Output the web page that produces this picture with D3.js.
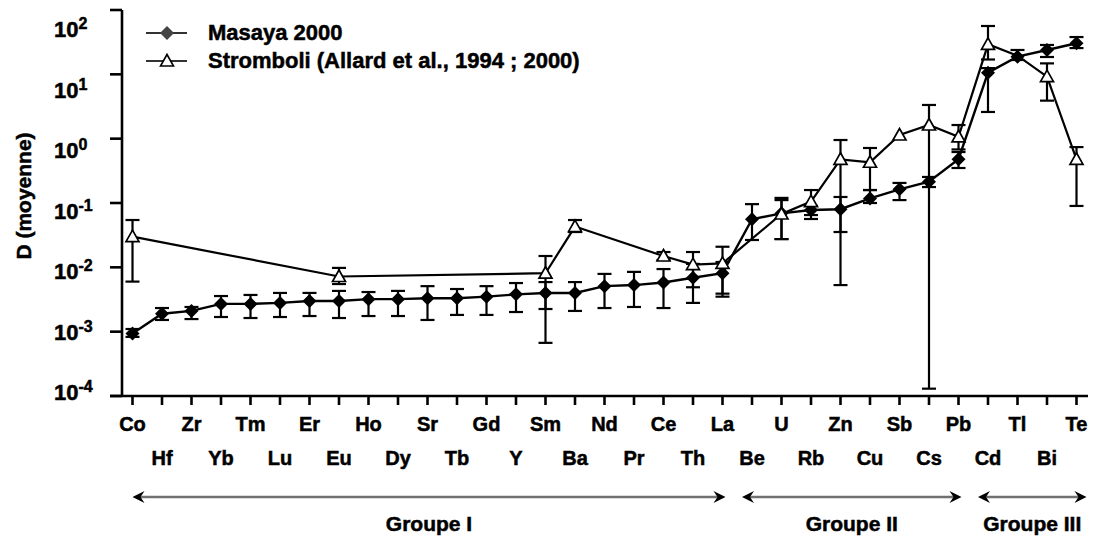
<!DOCTYPE html>
<html>
<head>
<meta charset="utf-8">
<script src="https://cdn.jsdelivr.net/npm/d3@7"></script>
<style>
  html, body { margin: 0; padding: 0; background: #fff; }
  svg { display: block; font-family: "Liberation Sans", Arial, sans-serif; font-weight: bold; }
  text { stroke: #000; stroke-width: 0.5px; paint-order: stroke; }
</style>
</head>
<body>
<svg id="chart" width="1093" height="538"></svg>
<script>
// Elements, ordered along the x axis
const categories = ["Co","Hf","Zr","Yb","Tm","Lu","Er","Eu","Ho","Dy","Sr","Tb","Gd","Y","Sm","Ba",
  "Nd","Pr","Ce","Th","La","Be","U","Rb","Zn","Cu","Sb","Cs","Pb","Cd","Tl","Bi","Te"];

// Masaya 2000: mean D, with lower / upper error limits
const masayaValues = [0.00094,0.0019,0.0021,0.0027,0.0027,0.0028,0.0030,0.0030,0.0032,0.0032,0.0033,
  0.0033,0.0035,0.0038,0.0040,0.0040,0.0051,0.0053,0.0058,0.0069,0.0081,0.056,0.069,0.078,0.080,
  0.118,0.163,0.214,0.48,10.6,18.8,23.9,30.4];
const masayaLow = [0.00083,0.00152,0.00157,0.00169,0.00163,0.00169,0.00175,0.00163,0.00175,0.00175,
  0.00152,0.00182,0.00182,0.00202,0.00225,0.0021,0.00233,0.00242,0.00233,0.0028,0.0039,0.0266,0.0275,
  0.0564,0.0354,0.100,0.111,0.177,0.35,2.6,16.7,18.6,25.6];
const masayaHigh = [0.0011,0.00233,0.00242,0.00358,0.00372,0.0040,0.0040,0.0043,0.00413,0.0043,0.0051,
  0.0046,0.0051,0.0057,0.0059,0.0059,0.0079,0.0085,0.0094,0.0113,0.0121,0.096,0.120,0.090,0.124,
  0.159,0.205,0.254,0.62,12.5,23.9,28.6,38];

// Stromboli (Allard et al., 1994 ; 2000): only some elements measured
const stromboliCats = ["Co","Eu","Sm","Ba","Ce","Th","La","U","Rb","Zn","Cu","Sb","Cs","Pb","Cd","Tl","Bi","Te"];
const stromboliValues = [0.030,0.0072,0.0081,0.043,0.0150,0.0110,0.0115,0.0675,0.105,0.478,0.43,1.14,
  1.63,1.07,29.3,19.5,9.2,0.478];
const stromboliLow = [0.0060,0.0055,0.00067,0.0354,0.0130,0.0049,0.0035,0.0275,0.065,0.0053,0.159,null,
  0.00013,0.68,17,null,3.9,0.090];
const stromboliHigh = [0.0544,0.0098,0.015,0.0544,0.0173,0.0173,0.0209,0.111,0.159,0.953,0.716,null,
  3.34,1.63,56.4,null,14.8,0.74];

// Y axis decades and element groups
const yTicks = [1e-4,1e-3,1e-2,1e-1,1e0,1e1,1e2];
const yExponents = ["-4","-3","-2","-1","0","1","2"];
const groupNames = ["Groupe I","Groupe II","Groupe III"];
const groupFirst = ["Co","Be","Cd"];
const groupLast = ["La","Pb","Te"];

const seriesNames = ["Masaya 2000","Stromboli (Allard et al., 1994 ; 2000)"];

const svg = d3.select("#chart");

const x = d3.scalePoint().domain(categories).range([132.5, 1076.5]);
const y = d3.scaleLog().domain([1e-4, 1e2]).range([396, 10]);
// tick labels sit on their own evenly spread ladder beside the axis
const yLab = d3.scaleLog().domain([1e-4, 1e2]).range([393, 30]);

const ink = "#000";

// ---- axes ----
const axisG = svg.append("g").attr("stroke", ink).attr("stroke-width", 2.6).attr("fill", "none");
axisG.append("line").attr("x1", 122).attr("x2", 122).attr("y1", y(1e2)).attr("y2", y(1e-4));
axisG.append("line").attr("x1", 110).attr("x2", 1088).attr("y1", y(1e-4)).attr("y2", y(1e-4));
axisG.selectAll("line.yt").data(yTicks).join("line").attr("class", "yt")
  .attr("x1", 110).attr("x2", 122).attr("y1", d => y(d)).attr("y2", d => y(d));
axisG.selectAll("line.xt").data(categories).join("line").attr("class", "xt")
  .attr("x1", d => x(d)).attr("x2", d => x(d)).attr("y1", y(1e-4)).attr("y2", y(1e-4) + 9);

// y tick labels: 10 with superscript exponent
const yl = svg.selectAll("text.yl").data(yTicks).join("text").attr("class", "yl")
  .attr("x", 54).attr("y", d => yLab(d) + 7).attr("font-size", 22).attr("fill", ink);
yl.append("tspan").text("10");
yl.append("tspan").attr("font-size", 16).attr("dy", -8).text((d, i) => yExponents[i]);

// y title
svg.append("text").attr("transform", "translate(31,196) rotate(-90)")
  .attr("text-anchor", "middle").attr("font-size", 21).attr("fill", ink).text("D (moyenne)");

// x labels, alternating between two rows
svg.selectAll("text.xl").data(categories).join("text").attr("class", "xl")
  .attr("x", d => x(d)).attr("y", (d, i) => i % 2 === 0 ? 431 : 465)
  .attr("text-anchor", "middle").attr("font-size", 20).attr("fill", ink).text(d => d);

// ---- group arrows ----
const groups = groupNames.map((name, i) => ({
  name,
  x0: x(groupFirst[i]) - (i === 0 ? 0 : 10),
  x1: x(groupLast[i]) + (i === groupNames.length - 1 ? 10 : 3)
}));
const gA = svg.append("g");
gA.selectAll("line").data(groups).join("line")
  .attr("x1", d => d.x0 + 6).attr("x2", d => d.x1 - 6).attr("y1", 497).attr("y2", 497)
  .attr("stroke", "#707070").attr("stroke-width", 2.5);
const head = (tipX, dir) => `M${tipX},497 L${tipX + dir * 12},491 L${tipX + dir * 8},497 L${tipX + dir * 12},503 Z`;
gA.selectAll("path.l").data(groups).join("path").attr("class", "l").attr("d", d => head(d.x0, 1)).attr("fill", ink);
gA.selectAll("path.r").data(groups).join("path").attr("class", "r").attr("d", d => head(d.x1, -1)).attr("fill", ink);
gA.selectAll("text").data(groups).join("text")
  .attr("x", d => (d.x0 + d.x1) / 2).attr("y", 531).attr("text-anchor", "middle")
  .attr("font-size", 21).attr("fill", ink).text(d => d.name);

// ---- series ----
const masaya = categories.map((c, i) => ({ c, v: masayaValues[i], lo: masayaLow[i], hi: masayaHigh[i] }));
const stromboli = stromboliCats.map((c, i) => ({ c, v: stromboliValues[i], lo: stromboliLow[i], hi: stromboliHigh[i] }));

const diamondPath = (cx, cy, r) => `M${cx},${cy - r} L${cx + r},${cy} L${cx},${cy + r} L${cx - r},${cy} Z`;
const trianglePath = (cx, cy) => `M${cx},${cy - 6.5} L${cx + 6.5},${cy + 5} L${cx - 6.5},${cy + 5} Z`;

function errorBars(g, data) {
  const d = data.filter(p => p.lo != null);
  const eb = g.append("g").attr("stroke", ink).attr("stroke-width", 2.2).attr("fill", "none");
  eb.selectAll("line.v").data(d).join("line").attr("class", "v")
    .attr("x1", p => x(p.c)).attr("x2", p => x(p.c)).attr("y1", p => y(p.lo)).attr("y2", p => y(p.hi));
  eb.selectAll("line.lo").data(d).join("line").attr("class", "lo")
    .attr("x1", p => x(p.c) - 7).attr("x2", p => x(p.c) + 7).attr("y1", p => y(p.lo)).attr("y2", p => y(p.lo));
  eb.selectAll("line.hi").data(d).join("line").attr("class", "hi")
    .attr("x1", p => x(p.c) - 7).attr("x2", p => x(p.c) + 7).attr("y1", p => y(p.hi)).attr("y2", p => y(p.hi));
}

const line = d3.line().x(p => x(p.c)).y(p => y(p.v));

const sG = svg.append("g");
errorBars(sG, stromboli);
sG.append("path").datum(stromboli).attr("d", line).attr("fill", "none").attr("stroke", ink).attr("stroke-width", 2.2);

const mG = svg.append("g");
errorBars(mG, masaya);
mG.append("path").datum(masaya).attr("d", line).attr("fill", "none").attr("stroke", ink).attr("stroke-width", 2.4);
mG.selectAll("path.m").data(masaya).join("path").attr("class", "m")
  .attr("d", p => diamondPath(x(p.c), y(p.v), 7)).attr("fill", ink);

// triangles drawn on top, except Tl which is hidden by the Masaya diamond
const tri = svg.append("g");
tri.selectAll("path").data(stromboli.filter(p => p.c !== "Tl")).join("path")
  .attr("d", p => trianglePath(x(p.c), y(p.v))).attr("fill", "#fff").attr("stroke", ink).attr("stroke-width", 1.7);

// ---- legend ----
const lg = svg.append("g");
lg.append("line").attr("x1", 146).attr("x2", 187).attr("y1", 33).attr("y2", 33).attr("stroke", "#333").attr("stroke-width", 2);
lg.append("path").attr("d", diamondPath(167, 33, 7)).attr("fill", "#444");
lg.append("line").attr("x1", 146).attr("x2", 187).attr("y1", 61).attr("y2", 61).attr("stroke", "#333").attr("stroke-width", 2);
lg.append("path").attr("d", trianglePath(167, 61)).attr("fill", "#fff").attr("stroke", ink).attr("stroke-width", 1.6);
lg.selectAll("text").data(seriesNames).join("text")
  .attr("x", 208).attr("y", (d, i) => 40 + i * 28).attr("font-size", 22).attr("fill", ink).text(d => d);
</script>
</body>
</html>
